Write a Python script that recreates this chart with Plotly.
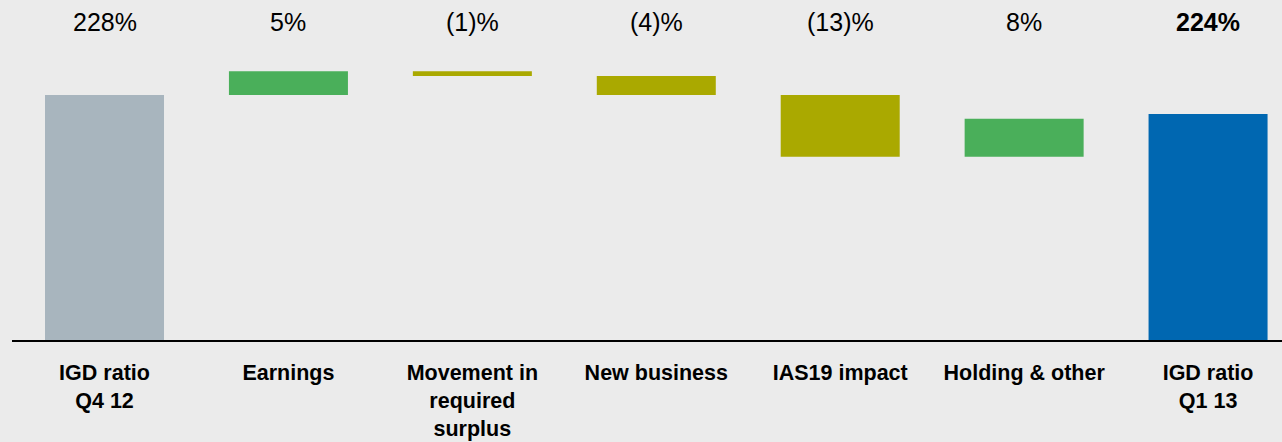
import plotly.graph_objects as go

categories = ["IGD ratio<br>Q4 12", "Earnings", "Movement in<br>required<br>surplus",
              "New business", "IAS19 impact", "Holding & other", "IGD ratio<br>Q1 13"]
values = [228, 5, -1, -4, -13, 8, 224]
measures = ["absolute", "relative", "relative", "relative", "relative", "relative", "absolute"]
value_labels = ["228%", "5%", "(1)%", "(4)%", "(13)%", "8%", "<b>224%</b>"]
colors = ["#A8B5BE", "#4AAF5A", "#AAA900", "#AAA900", "#AAA900", "#4AAF5A", "#0067B1"]

Y_MIN, Y_MAX = 176.4, 248.0
FONT = "Liberation Sans, Arial, sans-serif"

bases, heights = [], []
running = 0
for v, m in zip(values, measures):
    if m == "absolute":
        bases.append(Y_MIN - 0.4)
        heights.append(v - (Y_MIN - 0.4))
        running = v
    else:
        start = running
        end = running + v
        bases.append(min(start, end))
        heights.append(abs(v))
        running = end

fig = go.Figure()
fig.add_trace(go.Bar(
    x=categories, y=heights, base=bases,
    marker=dict(color=colors, line=dict(width=0)),
    width=0.647, hoverinfo="skip",
))

for cat, lab in zip(categories, value_labels):
    fig.add_annotation(x=cat, y=0.935, xref="x", yref="paper", text=lab,
                       showarrow=False, font=dict(size=25, color="#000000", family=FONT),
                       yanchor="middle")

fig.update_layout(
    width=1282, height=442,
    margin=dict(l=12, r=0, t=0, b=102, autoexpand=False),
    paper_bgcolor="#EBEBEB", plot_bgcolor="#EBEBEB",
    showlegend=False,
    font=dict(family=FONT, color="#000000"),
)
fig.update_xaxes(
    range=[-0.503, 6.402], showgrid=False, zeroline=False, automargin=False,
    showline=True, linecolor="#000000", linewidth=2,
    tickfont=dict(size=21.5, color="#000000", family=FONT),
    tickprefix="<b>", ticksuffix="</b>", ticks="", ticklabelstandoff=12,
)
fig.update_yaxes(range=[Y_MIN, Y_MAX], visible=False, showgrid=False, zeroline=False,
                 automargin=False)

fig.write_html("out.html", config={"displayModeBar": False},
               post_script="document.body.style.margin='0';document.body.style.padding='0';document.documentElement.style.overflow='hidden';")
